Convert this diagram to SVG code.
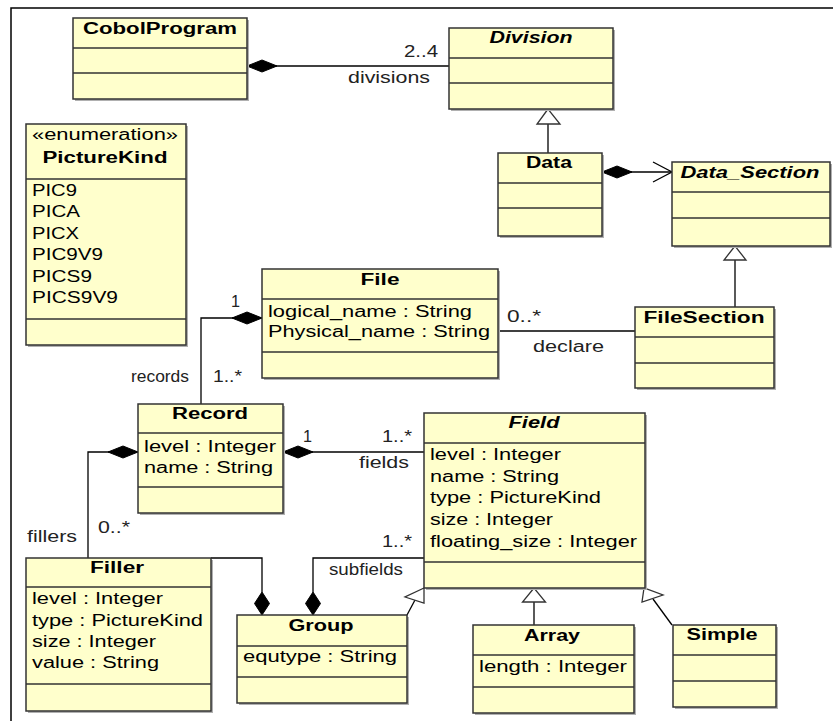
<svg xmlns="http://www.w3.org/2000/svg" width="835" height="721" viewBox="0 0 835 721">
<style>
.box{fill:#FFFFCC;stroke:#333;stroke-width:1.5}
.sh{fill:#b0b0b0}
.sep{stroke:#333;stroke-width:1.5}
text{font-family:"Liberation Sans",Arial,sans-serif;font-size:16px;fill:#000}
.b{font-weight:bold}
.bi{font-weight:bold;font-style:italic}
.c{text-anchor:middle}
.l{fill:#222}
.ln{fill:none;stroke:#000;stroke-width:1.3}
.dia{fill:#000;stroke:#000;stroke-width:1}
.tri{fill:#fff;stroke:#333;stroke-width:1.3}
.frame{fill:none;stroke:#000;stroke-width:1.5}
</style>
<rect width="835" height="721" fill="#fff"/>
<polyline class="frame" points="11,721 11,8 833,8"/>

<g id="connectors">
  <path class="ln" d="M247,66 H449"/>
  <polygon class="dia" points="247,66 262,60 277,66 262,72"/>
  <path class="ln" d="M548,153 V124"/>
  <polygon class="tri" points="548,109 537,124 560,124"/>
  <path class="ln" d="M602,172 H672"/>
  <polygon class="dia" points="602,172 617,166 632,172 617,178"/>
  <polyline class="ln" points="653,162 672,172 653,182"/>
  <path class="ln" d="M735,307 V260"/>
  <polygon class="tri" points="735,246 724,260 746,260"/>
  <path class="ln" d="M498,331 H635"/>
  <path class="ln" d="M262,318 H201 V404"/>
  <polygon class="dia" points="262,318 247,312 232,318 247,324"/>
  <path class="ln" d="M283,452 H424"/>
  <polygon class="dia" points="283,452 298,446 313,452 298,458"/>
  <path class="ln" d="M138,452 H88 V558"/>
  <polygon class="dia" points="138,452 123,446 108,452 123,458"/>
  <path class="ln" d="M262,592 V558 H211"/>
  <polygon class="dia" points="262,615 254.5,603.5 262,592 269.5,603.5"/>
  <path class="ln" d="M313,592 V558 H424"/>
  <polygon class="dia" points="313,615 305.5,603.5 313,592 320.5,603.5"/>
  <path class="ln" d="M407,615 L415,600"/>
  <polygon class="tri" points="424,588 405,597 424,603"/>
  <path class="ln" d="M534,625 V602"/>
  <polygon class="tri" points="534,588 522.5,602 545.5,602"/>
  <path class="ln" d="M672,625 L653,599"/>
  <polygon class="tri" points="644,588 642,602 663,595"/>
  <text class="l" x="438" y="57" text-anchor="end" textLength="34" lengthAdjust="spacingAndGlyphs">2..4</text>
  <text class="l" x="348" y="83" textLength="82" lengthAdjust="spacingAndGlyphs">divisions</text>
  <text class="l" x="507" y="322" textLength="34" lengthAdjust="spacingAndGlyphs">0..*</text>
  <text class="l" x="533" y="352" textLength="71" lengthAdjust="spacingAndGlyphs">declare</text>
  <text class="l" x="231" y="307" textLength="9" lengthAdjust="spacingAndGlyphs">1</text>
  <text class="l" x="213" y="382" textLength="29" lengthAdjust="spacingAndGlyphs">1..*</text>
  <text class="l" x="131" y="382" textLength="58" lengthAdjust="spacingAndGlyphs">records</text>
  <text class="l" x="303" y="442" textLength="9" lengthAdjust="spacingAndGlyphs">1</text>
  <text class="l" x="382" y="442" textLength="30" lengthAdjust="spacingAndGlyphs">1..*</text>
  <text class="l" x="359" y="468" textLength="50" lengthAdjust="spacingAndGlyphs">fields</text>
  <text class="l" x="27" y="542" textLength="50" lengthAdjust="spacingAndGlyphs">fillers</text>
  <text class="l" x="98" y="533" textLength="32" lengthAdjust="spacingAndGlyphs">0..*</text>
  <text class="l" x="382" y="547" textLength="30" lengthAdjust="spacingAndGlyphs">1..*</text>
  <text class="l" x="329" y="575" textLength="74" lengthAdjust="spacingAndGlyphs">subfields</text>
</g>

<g id="CobolProgram">
  <rect class="sh" x="75" y="20" width="174" height="81"/>
  <rect class="box" x="73" y="18" width="174" height="81"/>
  <line class="sep" x1="73" y1="48" x2="247" y2="48"/>
  <line class="sep" x1="73" y1="73" x2="247" y2="73"/>
  <text class="b c" x="160" y="34" textLength="154" lengthAdjust="spacingAndGlyphs">CobolProgram</text>
</g>

<g id="Division">
  <rect class="sh" x="451" y="30" width="164" height="81"/>
  <rect class="box" x="449" y="28" width="164" height="81"/>
  <line class="sep" x1="449" y1="58" x2="613" y2="58"/>
  <line class="sep" x1="449" y1="83" x2="613" y2="83"/>
  <text class="bi c" x="531" y="43" textLength="83" lengthAdjust="spacingAndGlyphs">Division</text>
</g>

<g id="Data">
  <rect class="sh" x="500" y="155" width="104" height="83"/>
  <rect class="box" x="498" y="153" width="104" height="83"/>
  <line class="sep" x1="498" y1="183" x2="602" y2="183"/>
  <line class="sep" x1="498" y1="208" x2="602" y2="208"/>
  <text class="b c" x="549" y="168" textLength="46" lengthAdjust="spacingAndGlyphs">Data</text>
</g>

<g id="Data_Section">
  <rect class="sh" x="674" y="164" width="158" height="84"/>
  <rect class="box" x="672" y="162" width="158" height="84"/>
  <line class="sep" x1="672" y1="192" x2="830" y2="192"/>
  <line class="sep" x1="672" y1="218" x2="830" y2="218"/>
  <text class="bi c" x="750" y="178" textLength="139" lengthAdjust="spacingAndGlyphs">Data_Section</text>
</g>

<g id="PictureKind">
  <rect class="sh" x="28" y="126" width="160" height="221"/>
  <rect class="box" x="26" y="124" width="160" height="221"/>
  <line class="sep" x1="26" y1="179" x2="186" y2="179"/>
  <line class="sep" x1="26" y1="319" x2="186" y2="319"/>
  <text class="c" x="105" y="140" textLength="146" lengthAdjust="spacingAndGlyphs">«enumeration»</text>
  <text class="b c" x="105" y="163" textLength="125" lengthAdjust="spacingAndGlyphs">PictureKind</text>
  <text x="32" y="196" textLength="45" lengthAdjust="spacingAndGlyphs">PIC9</text>
  <text x="32" y="217" textLength="48" lengthAdjust="spacingAndGlyphs">PICA</text>
  <text x="32" y="239" textLength="47" lengthAdjust="spacingAndGlyphs">PICX</text>
  <text x="32" y="260" textLength="71" lengthAdjust="spacingAndGlyphs">PIC9V9</text>
  <text x="32" y="282" textLength="60" lengthAdjust="spacingAndGlyphs">PICS9</text>
  <text x="32" y="303" textLength="86" lengthAdjust="spacingAndGlyphs">PICS9V9</text>
</g>

<g id="File">
  <rect class="sh" x="264" y="271" width="236" height="109"/>
  <rect class="box" x="262" y="269" width="236" height="109"/>
  <line class="sep" x1="262" y1="299" x2="498" y2="299"/>
  <line class="sep" x1="262" y1="352" x2="498" y2="352"/>
  <text class="b c" x="380" y="285" textLength="39" lengthAdjust="spacingAndGlyphs">File</text>
  <text x="268" y="317" textLength="204" lengthAdjust="spacingAndGlyphs">logical_name : String</text>
  <text x="268" y="337" textLength="222" lengthAdjust="spacingAndGlyphs">Physical_name : String</text>
</g>

<g id="FileSection">
  <rect class="sh" x="637" y="309" width="139" height="81"/>
  <rect class="box" x="635" y="307" width="139" height="81"/>
  <line class="sep" x1="635" y1="337" x2="774" y2="337"/>
  <line class="sep" x1="635" y1="363" x2="774" y2="363"/>
  <text class="b c" x="704" y="323" textLength="121" lengthAdjust="spacingAndGlyphs">FileSection</text>
</g>

<g id="Record">
  <rect class="sh" x="140" y="406" width="145" height="109"/>
  <rect class="box" x="138" y="404" width="145" height="109"/>
  <line class="sep" x1="138" y1="433" x2="283" y2="433"/>
  <line class="sep" x1="138" y1="487" x2="283" y2="487"/>
  <text class="b c" x="210" y="419" textLength="76" lengthAdjust="spacingAndGlyphs">Record</text>
  <text x="144" y="452" textLength="132" lengthAdjust="spacingAndGlyphs">level : Integer</text>
  <text x="144" y="473" textLength="129" lengthAdjust="spacingAndGlyphs">name : String</text>
</g>

<g id="Field">
  <rect class="sh" x="426" y="415" width="221" height="175"/>
  <rect class="box" x="424" y="413" width="221" height="175"/>
  <line class="sep" x1="424" y1="443" x2="645" y2="443"/>
  <line class="sep" x1="424" y1="562" x2="645" y2="562"/>
  <text class="bi c" x="534" y="428" textLength="51" lengthAdjust="spacingAndGlyphs">Field</text>
  <text x="430" y="460" textLength="131" lengthAdjust="spacingAndGlyphs">level : Integer</text>
  <text x="430" y="482" textLength="129" lengthAdjust="spacingAndGlyphs">name : String</text>
  <text x="430" y="503" textLength="171" lengthAdjust="spacingAndGlyphs">type : PictureKind</text>
  <text x="430" y="525" textLength="123" lengthAdjust="spacingAndGlyphs">size : Integer</text>
  <text x="430" y="547" textLength="207" lengthAdjust="spacingAndGlyphs">floating_size : Integer</text>
</g>

<g id="Filler">
  <rect class="sh" x="28" y="560" width="185" height="153"/>
  <rect class="box" x="26" y="558" width="185" height="153"/>
  <line class="sep" x1="26" y1="587" x2="211" y2="587"/>
  <line class="sep" x1="26" y1="684" x2="211" y2="684"/>
  <text class="b c" x="117" y="573" textLength="54" lengthAdjust="spacingAndGlyphs">Filler</text>
  <text x="32" y="604" textLength="131" lengthAdjust="spacingAndGlyphs">level : Integer</text>
  <text x="32" y="626" textLength="171" lengthAdjust="spacingAndGlyphs">type : PictureKind</text>
  <text x="32" y="647" textLength="124" lengthAdjust="spacingAndGlyphs">size : Integer</text>
  <text x="32" y="668" textLength="127" lengthAdjust="spacingAndGlyphs">value : String</text>
</g>

<g id="Group">
  <rect class="sh" x="239" y="617" width="170" height="88"/>
  <rect class="box" x="237" y="615" width="170" height="88"/>
  <line class="sep" x1="237" y1="646" x2="407" y2="646"/>
  <line class="sep" x1="237" y1="677" x2="407" y2="677"/>
  <text class="b c" x="321" y="631" textLength="65" lengthAdjust="spacingAndGlyphs">Group</text>
  <text x="243" y="662" textLength="154" lengthAdjust="spacingAndGlyphs">equtype : String</text>
</g>

<g id="Array">
  <rect class="sh" x="475" y="627" width="161" height="88"/>
  <rect class="box" x="473" y="625" width="161" height="88"/>
  <line class="sep" x1="473" y1="655" x2="634" y2="655"/>
  <line class="sep" x1="473" y1="687" x2="634" y2="687"/>
  <text class="b c" x="552" y="641" textLength="56" lengthAdjust="spacingAndGlyphs">Array</text>
  <text x="479" y="672" textLength="148" lengthAdjust="spacingAndGlyphs">length : Integer</text>
</g>

<g id="Simple">
  <rect class="sh" x="675" y="627" width="103" height="82"/>
  <rect class="box" x="673" y="625" width="103" height="82"/>
  <line class="sep" x1="673" y1="655" x2="776" y2="655"/>
  <line class="sep" x1="673" y1="681" x2="776" y2="681"/>
  <text class="b c" x="722" y="640" textLength="71" lengthAdjust="spacingAndGlyphs">Simple</text>
</g>
</svg>
